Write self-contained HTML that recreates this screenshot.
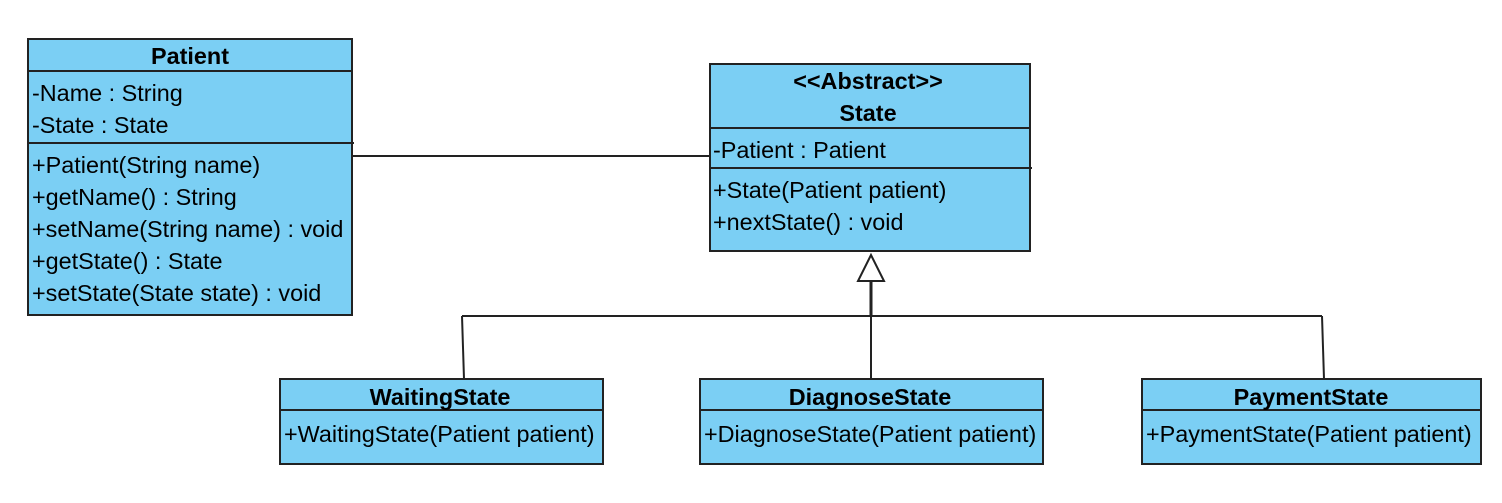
<!DOCTYPE html>
<html><head><style>body{margin:0;background:#fff}svg{display:block}text{font-family:"Liberation Sans",sans-serif;font-size:23.4px;fill:#000}.b{font-weight:bold}</style></head><body>
<svg width="1502" height="503" xmlns="http://www.w3.org/2000/svg">
<g stroke="#222" stroke-width="2" fill="#7bcff4">
<rect x="28" y="39" width="324" height="276"/>
<rect x="710" y="64" width="320" height="187"/>
<rect x="280" y="379" width="323" height="85"/>
<rect x="700" y="379" width="343" height="85"/>
<rect x="1142" y="379" width="339" height="85"/>
</g>
<g stroke="#222" stroke-width="2" fill="none">
<line x1="28" y1="71" x2="352" y2="71"/>
<line x1="28" y1="143" x2="354" y2="143"/>
<line x1="710" y1="128" x2="1030" y2="128"/>
<line x1="710" y1="168" x2="1032" y2="168"/>
<line x1="280" y1="410" x2="603" y2="410"/>
<line x1="700" y1="410" x2="1043" y2="410"/>
<line x1="1142" y1="410" x2="1481" y2="410"/>
<line x1="352" y1="156" x2="710" y2="156"/>
<line x1="462" y1="316" x2="1322" y2="316"/>
<line x1="462" y1="316" x2="464" y2="379"/>
<line x1="1322" y1="316" x2="1324" y2="379"/>
<line x1="871" y1="281" x2="871" y2="379"/>
<line x1="871" y1="281" x2="871" y2="316" stroke-width="3"/>
<polygon points="871,255 858,281 884,281" fill="#fff"/>
</g>
<text x="190" y="64" text-anchor="middle" class="b">Patient</text>
<text x="32" y="101">-Name : String</text>
<text x="32" y="133">-State : State</text>
<text x="32" y="173">+Patient(String name)</text>
<text x="32" y="205">+getName() : String</text>
<text x="32" y="237">+setName(String name) : void</text>
<text x="32" y="269">+getState() : State</text>
<text x="32" y="301">+setState(State state) : void</text>
<text x="868" y="89" text-anchor="middle" class="b">&lt;&lt;Abstract&gt;&gt;</text>
<text x="868" y="121" text-anchor="middle" class="b">State</text>
<text x="713" y="158">-Patient : Patient</text>
<text x="713" y="198">+State(Patient patient)</text>
<text x="713" y="230">+nextState() : void</text>
<text x="440" y="405" text-anchor="middle" class="b">WaitingState</text>
<text x="284" y="442">+WaitingState(Patient patient)</text>
<text x="870" y="405" text-anchor="middle" class="b">DiagnoseState</text>
<text x="704" y="442">+DiagnoseState(Patient patient)</text>
<text x="1311" y="405" text-anchor="middle" class="b">PaymentState</text>
<text x="1146" y="442">+PaymentState(Patient patient)</text>
</svg>
</body></html>
